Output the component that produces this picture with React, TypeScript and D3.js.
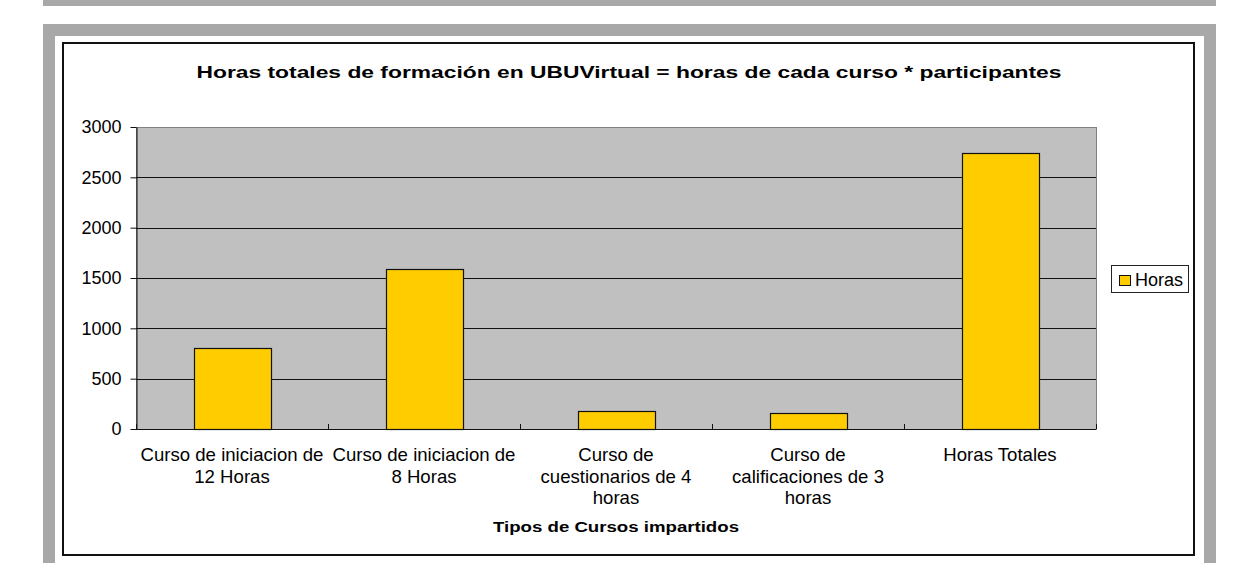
import React from "react";
import * as d3 from "d3";

const categories = [
  "Curso de iniciacion de\n12 Horas",
  "Curso de iniciacion de\n8 Horas",
  "Curso de\ncuestionarios de 4\nhoras",
  "Curso de\ncalificaciones de 3\nhoras",
  "Horas Totales",
];
const horas = [805, 1590, 175, 162, 2745];
const yTicks = [0, 500, 1000, 1500, 2000, 2500, 3000];
const seriesName = "Horas";
const chartTitle =
  "Horas totales de formación en UBUVirtual = horas de cada curso * participantes";
const xTitle = "Tipos de Cursos impartidos";

const FONT = "'Liberation Sans', Arial, sans-serif";

export default function App() {
  const width = 1241;
  const height = 563;
  const plot = { left: 136, top: 127, right: 1096, bottom: 429 };
  const svgRef = React.useRef<SVGSVGElement>(null);

  React.useEffect(() => {
    const svg = d3.select(svgRef.current);

    const x = d3
      .scaleBand()
      .domain(categories)
      .range([plot.left, plot.right])
      .padding(0);
    const y = d3
      .scaleLinear()
      .domain([0, 3000])
      .range([plot.bottom, plot.top]);
    const bw = x.bandwidth();

    // gridlines
    svg
      .select(".grid")
      .selectAll("line")
      .data(yTicks.filter((t) => t > 0 && t < 3000))
      .join("line")
      .attr("x1", plot.left)
      .attr("x2", plot.right)
      .attr("y1", (d) => Math.round(y(d)) + 0.5)
      .attr("y2", (d) => Math.round(y(d)) + 0.5)
      .attr("stroke", "#111")
      .attr("stroke-width", 1);

    // bars
    svg
      .select(".bars")
      .selectAll("rect")
      .data(horas)
      .join("rect")
      .attr("x", (d, i) => Math.round(x(categories[i])! + bw * 0.3) + 0.5)
      .attr("y", (d) => Math.round(y(d)) + 0.5)
      .attr("width", Math.round(bw * 0.4))
      .attr("height", (d) => Math.round(y(0)) - Math.round(y(d)))
      .attr("fill", "#ffcc00")
      .attr("stroke", "#111")
      .attr("stroke-width", 1.2);

    // y axis
    const yAxis = d3
      .axisLeft(y)
      .tickValues(yTicks)
      .tickFormat(d3.format("d"))
      .tickSize(6)
      .tickSizeOuter(0)
      .tickPadding(9);
    svg
      .select(".y-axis")
      .attr("transform", `translate(${plot.left + 0.5},0)`)
      .call(yAxis)
      .call((g) => g.select(".domain").attr("stroke", "#111"))
      .call((g) => g.selectAll(".tick line").attr("stroke", "#111"))
      .selectAll("text")
      .style("font-size", "18px")
      .style("font-family", FONT)
      .attr("fill", "#000");

    // x axis line and boundary ticks
    const bounds = categories.map((c) => x(c)!).concat([plot.right]);
    const xg = svg.select(".x-axis");
    xg.selectAll("line.base")
      .data([0])
      .join("line")
      .attr("class", "base")
      .attr("x1", plot.left)
      .attr("x2", plot.right)
      .attr("y1", Math.round(y(0)) + 0.5)
      .attr("y2", Math.round(y(0)) + 0.5)
      .attr("stroke", "#111");
    xg.selectAll("line.tick")
      .data(bounds)
      .join("line")
      .attr("class", "tick")
      .attr("x1", (d) => Math.round(d) + 0.5)
      .attr("x2", (d) => Math.round(d) + 0.5)
      .attr("y1", Math.round(y(0)))
      .attr("y2", Math.round(y(0)) - 5)
      .attr("stroke", "#111");

    // category labels
    xg.selectAll("text.cat")
      .data(categories)
      .join("text")
      .attr("class", "cat")
      .attr("text-anchor", "middle")
      .style("font-size", "18.6px")
      .style("font-family", FONT)
      .attr("fill", "#000")
      .each(function (d) {
        const t = d3.select(this);
        t.selectAll("tspan")
          .data(d.split("\n"))
          .join("tspan")
          .attr("x", x(d)! + bw / 2)
          .attr("y", (_, i) => 461 + i * 21.6)
          .text((s) => s);
      });
  }, []);

  const plotW = plot.right - plot.left;
  const plotH = plot.bottom - plot.top;

  return (
    <svg
      ref={svgRef}
      width={width}
      height={height}
      style={{ position: "absolute", left: 0, top: 0, background: "#fff" }}
    >
      {/* page frames */}
      <rect x={43} y={0} width={1173} height={6} fill="#a8a8a8" />
      <rect x={43} y={24} width={1173} height={539} fill="#a8a8a8" />
      <rect x={55} y={36} width={1149} height={527} fill="#fff" />
      <rect
        x={63}
        y={43}
        width={1131}
        height={512}
        fill="#fff"
        stroke="#111"
        strokeWidth={2}
      />

      {/* plot background */}
      <rect
        x={plot.left + 0.5}
        y={plot.top + 0.5}
        width={plotW}
        height={plotH}
        fill="#c0c0c0"
        stroke="#808080"
        strokeWidth={1}
      />
      <g className="grid" />
      <g className="bars" />
      <g className="y-axis" />
      <g className="x-axis" />

      <text
        x={629}
        y={78}
        textAnchor="middle"
        fontFamily={FONT}
        fontWeight="bold"
        fontSize={16.5}
        textLength={865}
        lengthAdjust="spacingAndGlyphs"
        fill="#000"
      >
        {chartTitle}
      </text>
      <text
        x={616}
        y={532}
        textAnchor="middle"
        fontFamily={FONT}
        fontWeight="bold"
        fontSize={14.5}
        textLength={246}
        lengthAdjust="spacingAndGlyphs"
        fill="#000"
      >
        {xTitle}
      </text>

      {/* legend */}
      <rect
        x={1111.5}
        y={265.5}
        width={77}
        height={27}
        fill="#fff"
        stroke="#222"
        strokeWidth={1}
      />
      <rect
        x={1119.5}
        y={275.5}
        width={11}
        height={10}
        fill="#ffcc00"
        stroke="#111"
        strokeWidth={1}
      />
      <text x={1135} y={286} fontFamily={FONT} fontSize={18} fill="#000">
        {seriesName}
      </text>
    </svg>
  );
}
